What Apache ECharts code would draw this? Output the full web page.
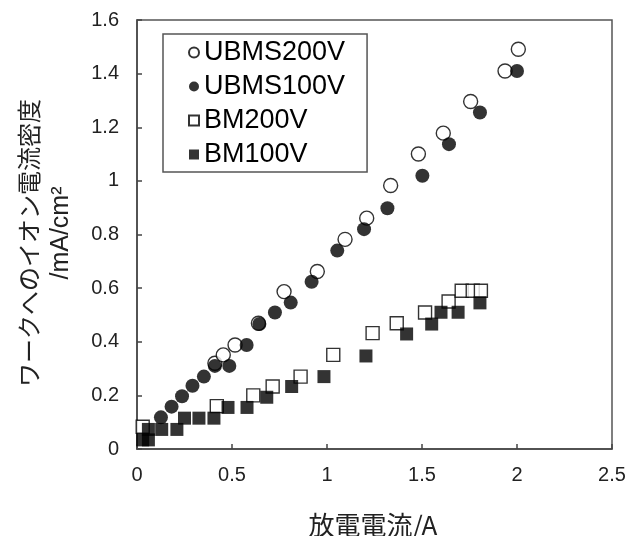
<!DOCTYPE html>
<html>
<head>
<meta charset="utf-8">
<script src="https://cdn.jsdelivr.net/npm/echarts@6/dist/echarts.min.js"></script>
<style>
  html, body { margin: 0; padding: 0; background: #fff; }
  #chart { width: 630px; height: 536px; }
</style>
</head>
<body>
<div id="chart"></div>
<script>
// Discharge current [A] vs ion current density to the work [mA/cm2]
const seriesNames = ['UBMS200V', 'UBMS100V', 'BM200V', 'BM100V'];

const ubms200 = [
  [0.41, 0.32], [0.454, 0.351], [0.516, 0.388], [0.639, 0.469], [0.774, 0.587],
  [0.949, 0.662], [1.095, 0.782], [1.209, 0.861], [1.335, 0.983], [1.481, 1.10],
  [1.612, 1.178], [1.756, 1.296], [1.937, 1.41], [2.007, 1.491]
];
const ubms100 = [
  [0.126, 0.118], [0.182, 0.158], [0.237, 0.197], [0.292, 0.236], [0.352, 0.27],
  [0.41, 0.31], [0.486, 0.31], [0.577, 0.388], [0.644, 0.466], [0.726, 0.509],
  [0.809, 0.546], [0.919, 0.624], [1.054, 0.74], [1.195, 0.82], [1.318, 0.898],
  [1.502, 1.019], [1.642, 1.137], [1.805, 1.255], [2.0, 1.41]
];
const bm200 = [
  [0.03, 0.083], [0.42, 0.16], [0.612, 0.2], [0.714, 0.233], [0.861, 0.27],
  [1.033, 0.351], [1.24, 0.432], [1.367, 0.469], [1.516, 0.509], [1.64, 0.55],
  [1.709, 0.59], [1.767, 0.59], [1.81, 0.59]
];
const bm100 = [
  [0.03, 0.034], [0.06, 0.034], [0.06, 0.073], [0.13, 0.073], [0.21, 0.073],
  [0.25, 0.115], [0.326, 0.115], [0.405, 0.115], [0.479, 0.155], [0.579, 0.155],
  [0.683, 0.193], [0.814, 0.233], [0.984, 0.27], [1.205, 0.347], [1.419, 0.429],
  [1.551, 0.466], [1.60, 0.51], [1.69, 0.51], [1.805, 0.545]
];

const xTitle = '放電電流/A';
const yTitleLine1 = 'ワークへのイオン電流密度';
const yTitleLine2 = '/mA/cm²';

const latin = "'Liberation Sans', Arial, sans-serif";
const cjk = "'Noto Sans CJK JP', 'Liberation Sans', sans-serif";
const ink = '#000';

const chart = echarts.init(document.getElementById('chart'), null, { renderer: 'canvas' });

function scatter(name, data, symbol, size, filled) {
  return {
    name: name,
    type: 'scatter',
    data: data,
    symbol: symbol,
    symbolSize: size,
    itemStyle: filled
      ? { color: ink, borderColor: ink, borderWidth: 0 }
      : { color: '#fff', borderColor: ink, borderWidth: 1.4 },
    emphasis: { disabled: true }
  };
}

chart.setOption({
  animation: false,
  backgroundColor: '#fff',
  grid: {
    left: 137, top: 20, right: 18, bottom: 87,
    show: true, borderColor: '#555', borderWidth: 1.5
  },
  legend: {
    orient: 'vertical',
    left: 163, top: 34,
    padding: [5, 22, 4, 25],
    itemGap: 7,
    itemWidth: 10, itemHeight: 10,
    itemTextGap: 8,
    align: 'left',
    borderColor: '#555', borderWidth: 1.5,
    backgroundColor: '#fff',
    textStyle: { fontFamily: latin, fontSize: 27, lineHeight: 27, color: ink },
    data: seriesNames
  },
  xAxis: {
    type: 'value', min: 0, max: 2.5, interval: 0.5,
    axisLine: { show: true, onZero: false, lineStyle: { color: '#444', width: 1.5 } },
    axisTick: { show: true, inside: true, length: 5, lineStyle: { color: '#444', width: 1.5 } },
    axisLabel: { margin: 16, fontFamily: latin, fontSize: 20, color: '#222' },
    splitLine: { show: false }
  },
  yAxis: {
    type: 'value', min: 0, max: 1.6, interval: 0.2,
    axisLine: { show: true, onZero: false, lineStyle: { color: '#444', width: 1.5 } },
    axisTick: { show: true, inside: true, length: 5, lineStyle: { color: '#444', width: 1.5 } },
    axisLabel: { margin: 18, fontFamily: latin, fontSize: 20, color: '#222' },
    splitLine: { show: false }
  },
  graphic: [
    {
      type: 'text', x: 373, y: 525,
      style: { text: xTitle, font: '26px ' + cjk, fill: '#222', textAlign: 'center', textVerticalAlign: 'middle' }
    },
    {
      type: 'text', x: 29, y: 243, rotation: Math.PI / 2,
      style: { text: yTitleLine1, font: '24px ' + cjk, fill: '#222', textAlign: 'center', textVerticalAlign: 'middle' }
    },
    {
      type: 'text', x: 61, y: 233, rotation: Math.PI / 2,
      style: { text: yTitleLine2, font: '25px ' + latin, fill: '#222', textAlign: 'center', textVerticalAlign: 'middle' }
    }
  ],
  series: [
    scatter(seriesNames[0], ubms200, 'circle', 14, false),
    scatter(seriesNames[1], ubms100, 'circle', 14, true),
    scatter(seriesNames[2], bm200, 'rect', 13, false),
    scatter(seriesNames[3], bm100, 'rect', 13, true)
  ]
});
</script>
</body>
</html>
